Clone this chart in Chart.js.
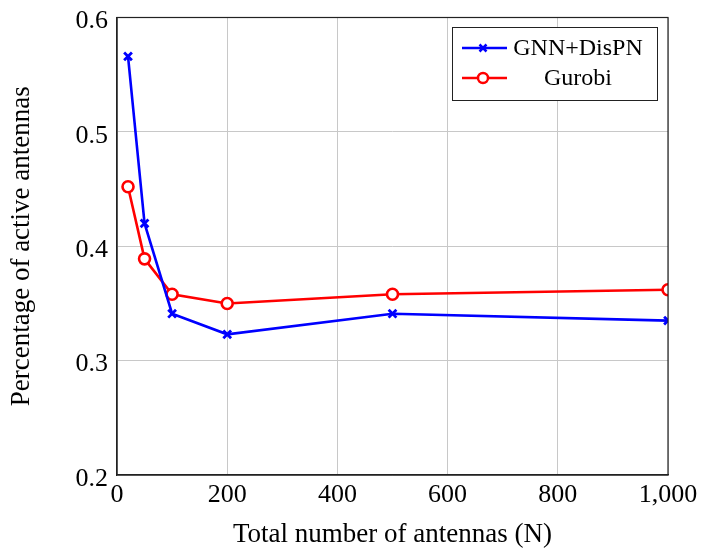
<!DOCTYPE html>
<html>
<head>
<meta charset="utf-8">
<script src="https://cdn.jsdelivr.net/npm/chart.js@4"></script>
<style>
  html, body { margin: 0; padding: 0; background: #fff; }
  #wrap { width: 714px; height: 548px; }
</style>
</head>
<body>
<div id="wrap"><canvas id="chart" width="714" height="548"></canvas></div>
<script>
const antennas = [20, 50, 100, 200, 500, 1000];
const gnnDispn = [0.566, 0.420, 0.341, 0.323, 0.341, 0.335];
const gurobi = [0.452, 0.389, 0.358, 0.350, 0.358, 0.362];
const xTicks = [0, 200, 400, 600, 800, 1000];
const yTicks = [0.2, 0.3, 0.4, 0.5, 0.6];

const serif = "'Liberation Serif', 'DejaVu Serif', serif";

function toPoints(values) {
  return antennas.map((x, i) => ({ x: x, y: values[i] }));
}

// legend box drawn inside the plot, top right
const boxLegend = {
  id: "boxLegend",
  afterDraw(chart) {
    const ctx = chart.ctx;
    const left = 452, top = 27, width = 205, height = 73;
    ctx.save();
    ctx.fillStyle = "#fff";
    ctx.fillRect(left, top, width, height);
    ctx.strokeStyle = "#222";
    ctx.lineWidth = 1;
    ctx.strokeRect(left + 0.5, top + 0.5, width, height);
    const rows = [48, 78];
    chart.data.datasets.forEach((ds, i) => {
      const y = rows[i];
      ctx.strokeStyle = ds.borderColor;
      ctx.lineWidth = 2.5;
      ctx.beginPath();
      ctx.moveTo(462, y);
      ctx.lineTo(507, y);
      ctx.stroke();
      const mx = 483;
      if (ds.pointStyle === "crossRot") {
        ctx.beginPath();
        ctx.moveTo(mx - 3.5, y - 3.5); ctx.lineTo(mx + 3.5, y + 3.5);
        ctx.moveTo(mx - 3.5, y + 3.5); ctx.lineTo(mx + 3.5, y - 3.5);
        ctx.stroke();
      } else {
        ctx.fillStyle = "#fff";
        ctx.beginPath();
        ctx.arc(mx, y, 5, 0, Math.PI * 2);
        ctx.fill();
        ctx.stroke();
      }
      ctx.fillStyle = "#000";
      ctx.font = "24px " + serif;
      ctx.textAlign = "center";
      ctx.textBaseline = "middle";
      ctx.fillText(ds.label, 578, y + 1);
    });
    ctx.restore();
  }
};

new Chart(document.getElementById("chart"), {
  type: "line",
  data: {
    datasets: [
      {
        label: "GNN+DisPN",
        data: toPoints(gnnDispn),
        borderColor: "#0000ff",
        backgroundColor: "#0000ff",
        borderWidth: 2.6,
        pointStyle: "crossRot",
        pointRadius: 5.5,
        pointBorderWidth: 2.8,
        tension: 0,
      },
      {
        label: "Gurobi",
        data: toPoints(gurobi),
        borderColor: "#ff0000",
        backgroundColor: "#ffffff",
        borderWidth: 2.6,
        pointStyle: "circle",
        pointRadius: 5.5,
        pointBorderWidth: 2.6,
        tension: 0,
      },
    ],
  },
  options: {
    responsive: false,
    animation: false,
    layout: { padding: { top: 17.5, right: 46, left: 0, bottom: 0 } },
    plugins: {
      legend: { display: false },
      tooltip: { enabled: false },
    },
    scales: {
      x: {
        type: "linear",
        min: 0,
        max: 1000,
        afterBuildTicks: (scale) => { scale.ticks = xTicks.map((v) => ({ value: v })); },
        afterFit: (scale) => {
          scale.height = 73;
          scale.paddingLeft = 0;
          scale.paddingRight = 0;
        },
        ticks: {
          color: "#000",
          font: { family: serif, size: 26 },
          padding: 5,
          maxRotation: 0,
          callback: (v) => v.toLocaleString("en-US"),
        },
        grid: { color: "#c8c8c8", drawTicks: false },
        border: { color: "#222", width: 1.2 },
        title: {
          display: true,
          text: "Total number of antennas (N)",
          color: "#000",
          font: { family: serif, size: 27, lineHeight: 1 },
          padding: { top: 0, bottom: 0 },
        },
      },
      y: {
        min: 0.2,
        max: 0.6,
        afterBuildTicks: (scale) => { scale.ticks = yTicks.map((v) => ({ value: v })); },
        afterFit: (scale) => {
          scale.width = 117;
          scale.paddingTop = 0;
          scale.paddingBottom = 0;
        },
        ticks: {
          color: "#000",
          font: { family: serif, size: 26 },
          padding: 9,
          labelOffset: 4,
          callback: (v) => v.toFixed(1),
        },
        grid: { color: "#c8c8c8", drawTicks: false },
        border: { color: "#222", width: 1.2 },
        title: {
          display: true,
          text: "Percentage of active antennas",
          color: "#000",
          font: { family: serif, size: 27 },
          padding: { top: 6, bottom: 0 },
        },
      },
    },
  },
  plugins: [
    {
      id: "frame",
      afterDatasetsDraw(chart) {
        const a = chart.chartArea;
        const ctx = chart.ctx;
        ctx.save();
        ctx.strokeStyle = "#222";
        ctx.lineWidth = 1.2;
        ctx.strokeRect(a.left, a.top, a.right - a.left, a.bottom - a.top);
        ctx.restore();
      },
    },
    boxLegend,
  ],
});
</script>
</body>
</html>
